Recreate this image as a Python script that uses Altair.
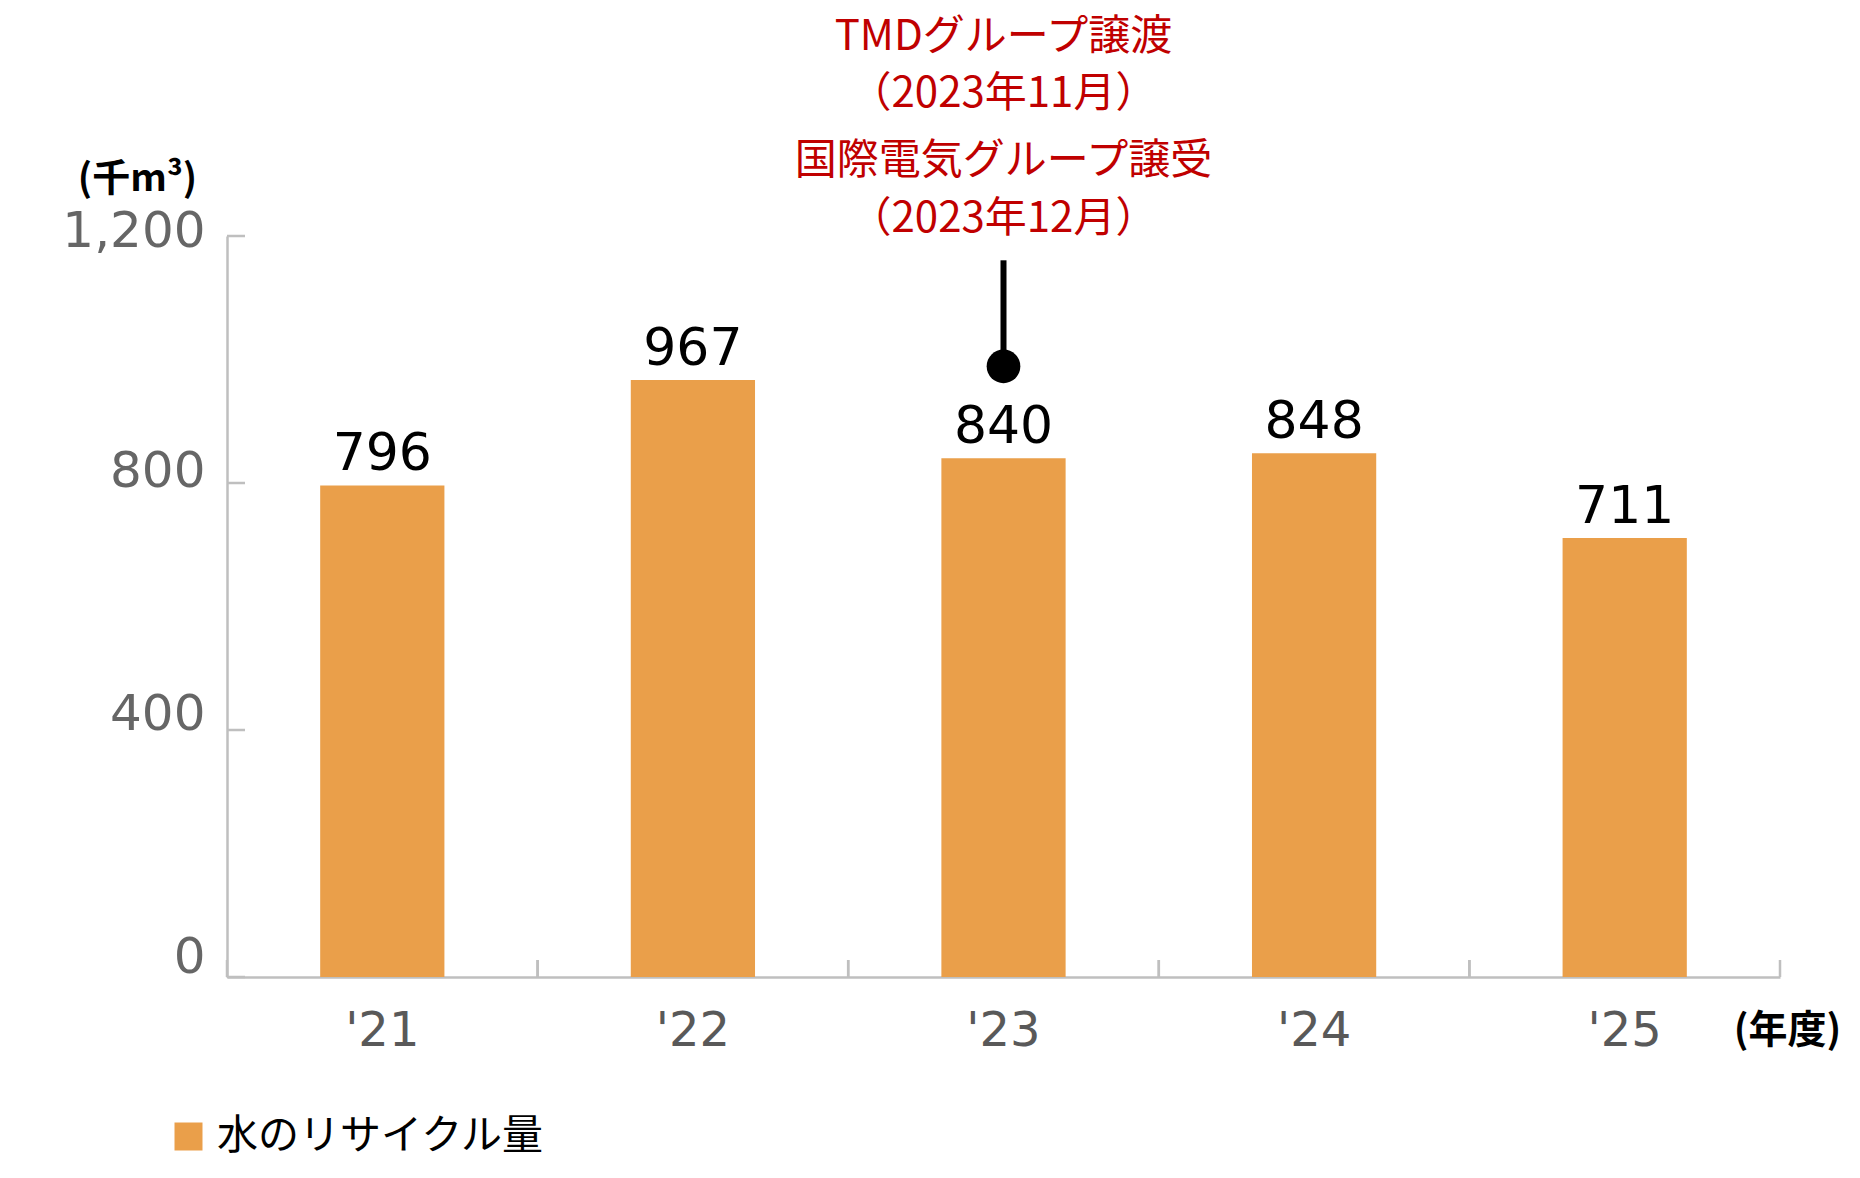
import altair as alt
import pandas as pd

# ---- data ----
years = ["'21", "'22", "'23", "'24", "'25"]
values = [796, 967, 840, 848, 711]
series_name = "水のリサイクル量"
y_ticks = [0, 400, 800, 1200]
annot_year = "'23"
annot_text_1 = ["TMDグループ譲渡", "（2023年11月）"]
annot_text_2 = ["国際電気グループ譲受", "（2023年12月）"]

W, H = 1553, 741
STEP = W / 5.0
BAR_COLOR = "#EA9F4A"
AXIS_COLOR = "#BFBFBF"
RED = "#C00000"
NUM_FONT = "DejaVu Sans"
JP_FONT = "Noto Sans CJK JP"

df = pd.DataFrame({"year": years, "value": values, "series": [series_name] * len(years)})
ticks_df = pd.DataFrame({"tick": y_ticks})

x_scale = alt.Scale(domain=years, paddingInner=0.6, paddingOuter=0.3)
y_scale = alt.Scale(domain=[0, 1200], nice=False)

y_label_offset = {
    "condition": [
        {"test": "datum.value == 1200", "value": -5},
        {"test": "datum.value == 800", "value": -12},
        {"test": "datum.value == 400", "value": -16},
    ],
    "value": -20,
}

base = alt.Chart(df)

bars = base.mark_bar().encode(
    x=alt.X("year:N", scale=x_scale, sort=years,
            axis=alt.Axis(title="(年度)", titleFont=JP_FONT, titleFontSize=39,
                          titleFontWeight="bold", titleColor="#000000",
                          titleX=1560, titleY=53, titleAlign="center",
                          titleBaseline="middle", titleAngle=0,
                          labelAngle=0, labelFont=NUM_FONT, labelFontSize=48,
                          labelColor="#595959", labelPadding=30,
                          ticks=False, tickSize=0,
                          domainColor=AXIS_COLOR, domainWidth=2.5)),
    y=alt.Y("value:Q", scale=y_scale,
            axis=alt.Axis(values=y_ticks, format=",.0f", title="(千m³)",
                          titleFont=JP_FONT, titleFontSize=38,
                          titleFontWeight="bold", titleColor="#000000",
                          titleAngle=0, titleX=-90, titleY=-57,
                          titleAlign="center", titleBaseline="middle",
                          labelFont=NUM_FONT, labelFontSize=50,
                          labelColor="#666666", labelPadding=22,
                          labelOffset=y_label_offset, labelBaseline="middle",
                          ticks=False, tickSize=0, grid=False,
                          domainColor=AXIS_COLOR, domainWidth=2.5)),
    color=alt.Color("series:N",
                    scale=alt.Scale(domain=[series_name], range=[BAR_COLOR]),
                    legend=alt.Legend(title=None, orient="none",
                                      legendX=-59, legendY=880,
                                      symbolType="square", symbolSize=784,
                                      symbolStrokeWidth=0, symbolOpacity=1,
                                      labelFont=JP_FONT, labelFontSize=41,
                                      labelColor="#000000", labelOffset=8,
                                      labelLimit=0, padding=0)),
)

labels = base.mark_text(baseline="bottom", dy=-4, font=NUM_FONT,
                        fontSize=52, color="#000000").encode(
    x=alt.X("year:N", scale=x_scale, sort=years),
    y=alt.Y("value:Q", scale=y_scale),
    text=alt.Text("value:Q"),
)

# x-axis ticks at band boundaries (pointing inward)
xt_left = base.mark_rule(color=AXIS_COLOR, strokeWidth=2.5, xOffset=-STEP / 2).encode(
    x=alt.X("year:N", scale=x_scale, sort=years),
    y=alt.value(H - 17), y2=alt.value(H),
)
xt_right = base.mark_rule(color=AXIS_COLOR, strokeWidth=2.5, xOffset=STEP / 2).encode(
    x=alt.X("year:N", scale=x_scale, sort=years),
    y=alt.value(H - 17), y2=alt.value(H),
)
# y-axis ticks pointing inward
yt = alt.Chart(ticks_df).mark_rule(color=AXIS_COLOR, strokeWidth=2.5).encode(
    y=alt.Y("tick:Q", scale=y_scale),
    x=alt.value(0), x2=alt.value(18),
)

annot = base.transform_filter(alt.datum.year == annot_year)
pin_line = annot.mark_rule(color="#000000", strokeWidth=6, yOffset=-92, y2Offset=-198).encode(
    x=alt.X("year:N", scale=x_scale, sort=years),
    y=alt.Y("value:Q", scale=y_scale),
    y2="value:Q",
)
pin_dot = annot.mark_point(shape="circle", filled=True, color="#000000",
                           opacity=1, size=1134, yOffset=-92).encode(
    x=alt.X("year:N", scale=x_scale, sort=years),
    y=alt.Y("value:Q", scale=y_scale),
)
txt1 = annot.mark_text(font=JP_FONT, fontSize=42, color=RED, baseline="middle",
                       lineHeight=57, yOffset=-421).encode(
    x=alt.X("year:N", scale=x_scale, sort=years),
    y=alt.Y("value:Q", scale=y_scale),
    text=alt.value(annot_text_1),
)
txt2 = annot.mark_text(font=JP_FONT, fontSize=42, color=RED, baseline="middle",
                       lineHeight=58, yOffset=-297).encode(
    x=alt.X("year:N", scale=x_scale, sort=years),
    y=alt.Y("value:Q", scale=y_scale),
    text=alt.value(annot_text_2),
)

chart = alt.layer(bars, labels, xt_left, xt_right, yt, pin_line, pin_dot, txt1, txt2).properties(
    width=W, height=H,
    background="#ffffff",
    autosize=alt.AutoSizeParams(type="none"),
    padding={"left": 227, "top": 236, "right": 1860 - 227 - W, "bottom": 1178 - 236 - H},
).configure_view(strokeWidth=0, stroke=None)

chart.save("out.html", embed_options={"renderer": "svg", "actions": False})
